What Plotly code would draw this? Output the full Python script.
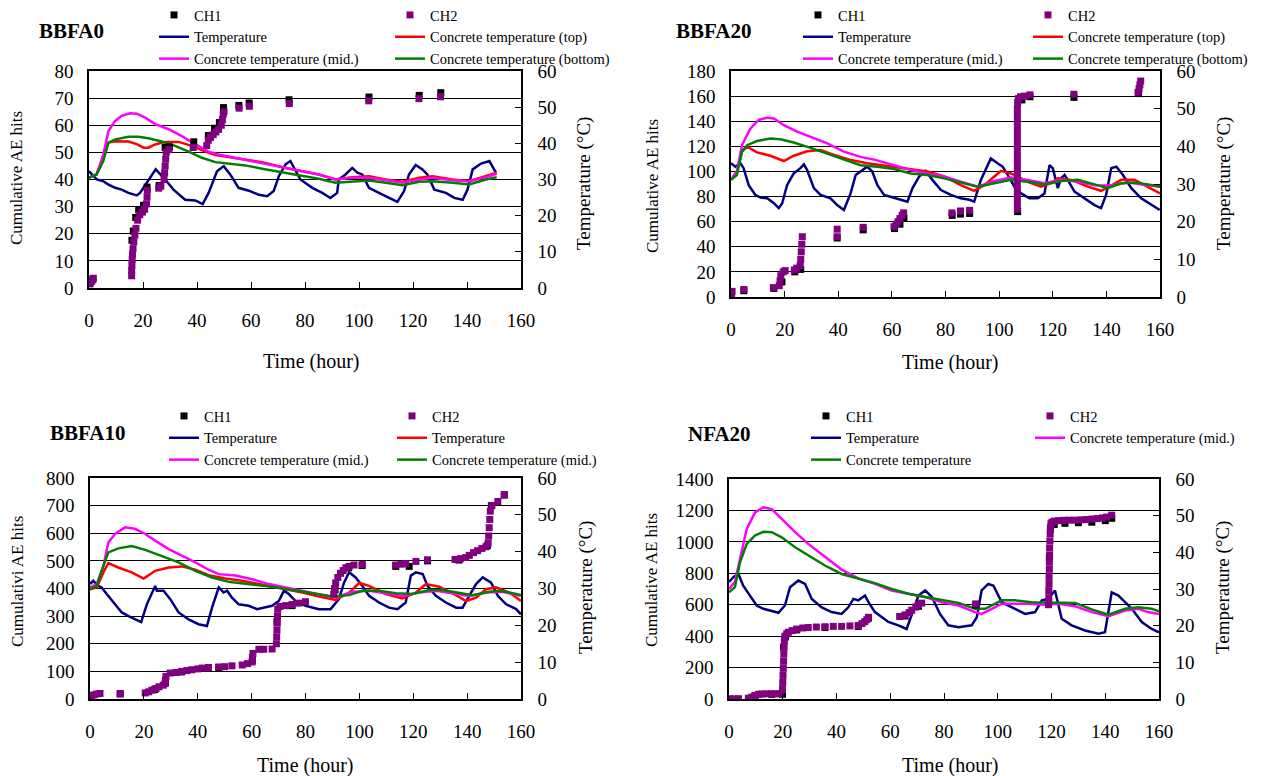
import plotly.graph_objects as go

W, H = 1262, 776          # browser window
PAGE_PAD = 8              # default body margin of the page
FIG_W, FIG_H = W - PAGE_PAD, H - PAGE_PAD
FONT = "Liberation Serif"

# ---------------- data: (time in hours, value) ----------------
# BBFA0
bbfa0_air = [(0, 32.3), (1, 31.6), (2.9, 30.0), (5.3, 29.5), (7.2, 28.6), (9.7, 27.7), (12.1, 27.2), (14.6, 26.3),
             (17.7, 25.6), (18.9, 26.3), (21.4, 29.1), (24.7, 32.8), (28.2, 30.0), (31.3, 27.2), (35.6, 24.4),
             (39.4, 24.2), (42.1, 23.2), (44.3, 26.3), (47.4, 32.3), (49.9, 33.7), (52.3, 31.4), (55.4, 27.7),
             (59.2, 26.9), (62.9, 25.8), (66.0, 25.4), (68.4, 26.8), (70.3, 30.9), (72.8, 34.2), (74.6, 35.1),
             (75.9, 33.2), (78.3, 30.0), (82.7, 27.7), (86.4, 26.3), (89.4, 24.9), (91.9, 26.3), (92.5, 30.0),
             (95.0, 31.4), (97.5, 33.2), (99.4, 31.9), (101.2, 31.4), (103.7, 27.7), (107.4, 26.3), (111.1, 24.9),
             (114.2, 23.8), (116.7, 26.8), (118.5, 31.4), (121.0, 34.0), (123.5, 32.8), (125.3, 31.4), (127.9, 27.2),
             (132.2, 26.3), (135.3, 24.9), (138.4, 24.4), (140.2, 27.2), (142.1, 32.8), (145.2, 34.4), (148.3, 35.1),
             (150.7, 31.9)]
bbfa0_top = [(0, 30.5), (2.8, 31.4), (5.3, 36.0), (7.2, 40.2), (9.7, 40.6), (14.6, 40.5), (17.7, 39.8), (20.2, 38.8),
             (22, 38.8), (24.5, 39.7), (28.2, 40.4), (33.2, 40.4), (38.1, 39.3), (43.1, 37.7), (46.8, 36.8),
             (51.7, 36.2), (57.9, 35.6), (64.1, 34.8), (72.8, 33.2), (79, 32.3), (85.1, 31.4), (91.3, 30.0),
             (97.5, 30.6), (103.7, 30.9), (109.9, 30.0), (116.1, 29.4), (122.3, 30.5), (127.2, 30.9), (134.7, 30.0),
             (140.8, 29.5), (147, 30.9), (151, 31.9)]
bbfa0_mid = [(0, 30.5), (2.8, 31.4), (5.3, 36.9), (7.2, 43.4), (9.7, 46.2), (12.1, 47.6), (15.2, 48.3), (17.7, 48.2),
             (20.8, 47.1), (24.5, 45.3), (29.5, 43.9), (34.4, 42.0), (39.4, 39.7), (44.3, 37.7), (48, 36.9),
             (54.2, 36.0), (60.4, 35.1), (66.6, 34.2), (72.8, 33.1), (79, 32.3), (85.1, 31.4), (91.3, 30.0),
             (97.5, 30.5), (103.7, 30.5), (109.9, 29.7), (116.1, 29.1), (122.3, 30.0), (127.2, 30.5), (134.7, 29.8),
             (140.8, 29.5), (147, 30.6), (151, 31.6)]
bbfa0_bot = [(0, 30.5), (2.8, 31.4), (5.3, 35.1), (7.2, 40.2), (9.7, 41.1), (14.6, 41.8), (18.3, 41.8), (22, 41.4),
             (26.9, 40.5), (31.9, 39.3), (36.9, 37.7), (41.8, 36.0), (46.8, 34.8), (51.7, 34.4), (57.9, 33.9),
             (64.1, 33.0), (72.8, 31.9), (79, 31.1), (85.1, 30.2), (91.3, 29.1), (97.5, 29.5), (103.7, 29.7),
             (109.9, 29.1), (116.1, 28.4), (122.3, 29.4), (127.2, 29.5), (134.7, 29.1), (140.8, 28.6), (147, 30.0),
             (151, 30.6)]
bbfa0_ch1 = [(0.4, 1.8), (1.4, 3.2), (15.9, 17.6), (16.4, 21), (17.3, 26), (18.4, 28.8), (20.2, 30.5), (21.5, 37.2),
             (26.0, 37.8), (28.2, 51.8), (29.8, 52.0), (38.8, 53.9), (44.2, 56.2), (46.5, 58.9), (48.3, 61.0),
             (49.8, 66.5), (55.5, 67.3), (59.3, 68.2), (74.1, 69.4), (103.7, 70.4), (122.3, 71.0), (130.3, 72.0)]
bbfa0_ch2 = [(0.3, 1.5), (1.0, 2.5), (1.6, 3.6), (15.8, 4.5), (15.8, 6.5), (15.9, 8.5), (16.0, 10.5), (16.1, 12.5),
             (16.3, 14.5), (16.6, 17), (17.0, 19.5), (17.4, 22), (18.0, 25), (18.8, 27), (19.8, 28), (20.6, 29),
             (21.3, 31), (21.5, 33.5), (21.6, 36), (25.8, 36.8), (26.6, 37.5), (27.8, 40), (28.0, 42.5), (28.2, 45),
             (28.4, 47.5), (28.6, 50), (29.6, 51), (38.6, 51.8), (43.6, 52.5), (44.2, 54.5), (45.0, 55.5),
             (46.0, 56.5), (47.0, 57.5), (48.0, 58.5), (49.0, 60), (49.4, 62), (49.7, 64), (50.0, 65), (55.6, 66.3),
             (59.4, 67), (74.2, 68), (103.6, 69), (122.2, 69.8), (130.2, 70.5)]

# BBFA20
bbfa20_air = [(0, 35.5), (1.6, 34.6), (3.5, 35.5), (4.7, 34.2), (6.6, 29.7), (9.1, 27.1), (11, 26.4), (13.5, 26.2),
              (16, 24.9), (17.8, 23.6), (19.1, 24.9), (20.9, 29.7), (23.4, 32.8), (25.9, 34.2), (27.2, 35.2),
              (28.4, 33.7), (30.9, 28.9), (33.4, 27.1), (37.1, 26.2), (39.6, 24.4), (42.1, 23.1), (44.6, 27.5),
              (46.5, 32.4), (49, 33.7), (50.8, 34.6), (52.7, 33.3), (54.6, 29.7), (57.1, 27.1), (60.8, 26.2),
              (63.3, 25.8), (65.8, 25.3), (67.7, 28.9), (70.2, 32.0), (72.6, 33.5), (75.1, 31.1), (78.3, 28.4),
              (82, 27.1), (85.7, 26.2), (88.9, 25.8), (90.7, 25.3), (93.2, 31.1), (95.7, 35.0), (96.9, 36.8),
              (99.4, 35.5), (101.3, 34.6), (103.2, 32.4), (105.7, 29.3), (108.2, 27.5), (111.3, 26.2), (114.4, 26.2),
              (116.9, 27.5), (118.8, 35.0), (120, 34.2), (121.9, 28.9), (123.1, 31.5), (124.4, 32.4), (125.6, 31.1),
              (128.1, 28.0), (131.8, 26.2), (135.6, 24.4), (138, 23.6), (139.9, 27.1), (141.8, 34.2), (143.7, 34.6),
              (146.2, 32.4), (149.3, 28.9), (153, 26.2), (156.8, 24.4), (159.9, 23.1)]
bbfa20_top = [(0, 31.1), (2.2, 33.3), (4.1, 38.6), (6, 39.9), (9.7, 38.4), (14.7, 37.5), (19.7, 36.1), (23.4, 37.5),
              (28.4, 38.7), (33.4, 39.0), (38.4, 37.7), (44.6, 36.4), (50.8, 35.5), (57.1, 34.9), (63.3, 34.3),
              (73.3, 33.3), (79.5, 32.0), (85.7, 29.7), (90.7, 28.2), (94.5, 29.7), (98.2, 32.0), (100.7, 33.5),
              (104.4, 32.8), (110.7, 30.6), (115.6, 29.3), (119.4, 30.2), (121.9, 31.5), (126.9, 31.1), (133.1, 29.3),
              (138, 28.2), (141.8, 29.6), (145.5, 31.1), (150.5, 31.1), (155.5, 29.3), (160, 27.5)]
bbfa20_mid = [(0, 31.1), (2.2, 33.3), (4.1, 40.3), (7.2, 44.7), (10.3, 47.0), (13.5, 47.6), (16, 47.4), (19.7, 45.6),
              (24.7, 43.9), (29.7, 42.5), (35.9, 40.8), (42.1, 38.6), (48.3, 37.2), (53.8, 36.4), (60.8, 35.0),
              (67, 33.7), (73.3, 32.8), (79.5, 32.0), (85.7, 30.6), (92, 29.3), (98.2, 30.8), (104.4, 31.7),
              (110.7, 31.1), (116.9, 30.2), (123.1, 31.1), (129.3, 30.6), (135.6, 29.7), (141.8, 29.6), (148, 30.4),
              (154.3, 29.9), (160, 29.3)]
bbfa20_bot = [(0, 31.1), (2.2, 32.4), (4.1, 38.6), (6, 40.3), (9.7, 41.4), (14.7, 42.1), (18.4, 41.9), (23.4, 41.0),
              (29.7, 39.6), (35.9, 38.1), (42.1, 36.4), (48.3, 35.0), (54.6, 34.6), (60.8, 34.0), (67, 32.8),
              (73.3, 32.4), (79.5, 31.5), (85.7, 30.4), (92, 29.3), (98.2, 30.2), (104.4, 31.1), (110.7, 30.6),
              (116.9, 29.9), (123.1, 30.8), (129.3, 31.1), (135.6, 29.9), (140.5, 28.9), (145.5, 30.2), (150.5, 30.4),
              (155.5, 29.9), (160, 29.3)]
bbfa20_ch1 = [(0.2, 0.5), (4.8, 5.0), (16.0, 6.8), (19.0, 12), (23.8, 20), (26.0, 22), (39.6, 47), (49.3, 53.5),
              (61.0, 54.5), (63.0, 58), (64.5, 63), (82.5, 65), (85.6, 66), (89.0, 66.5), (106.9, 68), (108.5, 157),
              (111.5, 159.5), (127.9, 159), (152.0, 162)]
bbfa20_ch2 = [(0.2, 1.5), (0.4, 4.5), (4.8, 6), (15.8, 7.5), (18.0, 9), (18.3, 13), (18.6, 17), (19.5, 20), (20.2, 21),
              (23.6, 21.5), (24.5, 23), (25.8, 25), (26.0, 30), (26.2, 36), (26.4, 42), (26.6, 48), (39.6, 48),
              (39.6, 54), (49.3, 55.5), (60.8, 56), (61.6, 58), (62.3, 60), (63.0, 62.5), (63.8, 65), (64.4, 67),
              (82.4, 67), (85.6, 68.5), (89.0, 69), (106.8, 70), (106.8, 75), (106.8, 80), (106.8, 85), (106.8, 90),
              (106.8, 95), (106.8, 100), (106.8, 105), (106.8, 110), (106.8, 115), (106.8, 120), (106.8, 125),
              (106.8, 130), (106.8, 135), (106.8, 140), (106.8, 145), (106.8, 150), (106.9, 155), (107.2, 158),
              (108.0, 159.5), (109.5, 160), (111.5, 161), (127.9, 161.5), (151.8, 163), (152.2, 166), (152.5, 169),
              (152.8, 172)]

# BBFA10
bbfa10_air = [(0, 31.2), (1.2, 32.1), (3.1, 30.7), (4.3, 30.3), (6.2, 28.5), (9.3, 25.7), (11.8, 23.5), (14.3, 22.5),
              (16.7, 21.6), (19, 20.9), (21.1, 25.7), (24.2, 30.7), (24.8, 29.4), (27.3, 29.4), (29.8, 27.1),
              (32.9, 23.5), (36.6, 21.6), (40.3, 20.3), (43.4, 19.8), (45.3, 24.8), (47.8, 30.3), (49.6, 28.9),
              (50.9, 29.4), (52.7, 27.5), (55.2, 25.7), (58.9, 25.3), (62, 24.4), (65.1, 24.8), (67.6, 25.3),
              (70.1, 26.6), (72, 29.4), (73.8, 28.5), (76.3, 26.6), (80, 25.3), (85, 24.4), (89.3, 24.4), (92.4, 27.1),
              (94.3, 31.6), (96.2, 34.4), (98.6, 33.0), (101.1, 30.7), (103.6, 28.0), (107.3, 26.2), (111, 24.8),
              (114.1, 24.4), (117.2, 26.2), (119.1, 33.5), (121, 34.4), (123.5, 33.9), (125.3, 30.7), (128.4, 28.0),
              (132.1, 26.2), (135.9, 24.8), (138.3, 24.8), (140.8, 28.0), (143.3, 31.2), (145.8, 33.0), (148.9, 31.6),
              (151.4, 28.0), (154.5, 25.7), (158.2, 24.4), (160, 23.0)]
bbfa10_top = [(0, 29.8), (2.5, 30.3), (5, 34.4), (6.8, 36.9), (10.5, 35.7), (15.5, 34.4), (19.9, 32.7), (24.2, 34.8),
              (29.2, 35.7), (34.1, 36.0), (39.1, 35.1), (44, 33.6), (50.2, 32.7), (56.5, 32.1), (62.7, 31.2),
              (72.6, 29.8), (78.8, 28.9), (85, 27.8), (91.2, 26.9), (96.2, 28.9), (99.9, 31.5), (103.6, 30.7),
              (109.8, 28.5), (116, 27.3), (121, 28.9), (124.7, 31.2), (129.6, 30.5), (134.6, 28.7), (139.6, 26.6),
              (143.3, 27.5), (147, 29.8), (150.7, 30.3), (155.7, 28.9), (160, 26.6)]
bbfa10_mid = [(0, 30.3), (2.5, 31.2), (5, 36.2), (6.8, 42.5), (9.3, 44.8), (13, 46.6), (16.7, 46.2), (20.5, 44.8),
              (24.2, 43.0), (29.2, 40.7), (34.1, 38.9), (39.1, 37.1), (44, 35.1), (47.8, 33.9), (54, 33.5),
              (60.2, 32.5), (66.4, 31.2), (72.6, 30.3), (78.8, 29.4), (85, 28.5), (91.2, 27.5), (97.4, 29.1),
              (103.6, 29.4), (109.8, 28.7), (116, 28.0), (122.2, 28.9), (128.4, 29.4), (134.6, 28.7), (140.8, 28.0),
              (147, 28.9), (153.2, 29.1), (160, 28.0)]
bbfa10_bot = [(0, 29.8), (2.5, 30.7), (5, 36.2), (6.8, 39.8), (10.5, 40.9), (15.5, 41.5), (20.5, 40.5), (26.7, 38.9),
              (32.9, 37.1), (39.1, 34.8), (45.3, 33.0), (51.5, 31.8), (60.2, 31.2), (67.6, 30.5), (75.1, 29.6),
              (82.5, 28.7), (90, 27.8), (96.2, 28.2), (101.1, 29.4), (107.3, 29.4), (113.5, 28.7), (119.7, 28.5),
              (126, 29.6), (130.9, 29.6), (135.9, 28.9), (142.1, 28.2), (148.3, 29.1), (152, 29.4), (155.7, 28.9),
              (160, 28.2)]
bbfa10_ch1 = [(0.3, 10), (11.2, 18), (24.0, 34), (28.0, 60), (34, 98), (47.8, 114), (60.3, 140), (69.4, 280),
              (75, 338), (91.0, 395), (96.0, 475), (101, 483), (113.5, 480), (118.5, 480), (125.3, 500), (137, 503),
              (147.5, 555), (149.0, 700), (153.8, 738)]
bbfa10_ch2 = [(0.2, 5), (0.5, 12), (1.5, 15), (2.5, 18), (3.7, 20), (11.2, 20), (20.5, 22), (21.8, 26), (23.0, 32),
              (24.5, 38), (25.6, 44), (27.2, 50), (27.9, 56), (28.0, 68), (28.2, 82), (29.8, 94), (32, 96), (34.1, 100),
              (36, 103), (37.8, 106), (40, 109), (41.6, 112), (44, 114), (47.8, 116), (50, 117), (52.7, 120),
              (56.5, 123), (58.5, 128), (60.2, 134), (60.3, 150), (60.5, 165), (62.7, 180), (64.5, 180), (67.6, 181),
              (69.2, 200), (69.3, 225), (69.4, 250), (69.5, 275), (69.6, 300), (69.7, 325), (70.5, 335), (72.6, 338),
              (75, 342), (77.5, 347), (80, 352), (90.5, 380), (90.8, 400), (91.2, 420), (92.0, 440), (93.0, 455),
              (94.0, 465), (95.0, 475), (96.2, 480), (98.0, 485), (101.1, 487), (113.5, 485), (115.5, 488),
              (117.2, 490), (121.0, 498), (125.3, 504), (135.5, 505), (137.5, 508), (139.5, 512), (140.8, 520),
              (142.4, 530), (143.9, 537), (145.5, 545), (147.0, 551), (147.8, 565), (148.0, 590), (148.2, 620),
              (148.4, 650), (148.6, 680), (149.2, 700), (151.4, 715), (153.8, 740)]

# NFA20
nfa20_air = [(0, 31.9), (1.6, 33.2), (3.5, 34.1), (5.3, 30.9), (7.8, 28.2), (10.3, 25.5), (12.8, 24.6), (15.9, 24.1),
             (18.4, 23.5), (20.8, 25.5), (22.7, 30.5), (25.8, 32.3), (28.3, 31.4), (30.8, 27.3), (34.5, 25.0),
             (38.2, 23.7), (41.9, 23.2), (44.4, 25.0), (46.3, 27.3), (48.1, 26.9), (50.6, 28.2), (51.9, 26.4),
             (54.3, 23.7), (59.3, 21.0), (63, 20.1), (66.1, 19.1), (68, 22.8), (70.5, 28.2), (73, 29.6), (75.5, 27.8),
             (78.5, 23.2), (81.6, 20.1), (85.4, 19.6), (90.3, 20.1), (92.2, 22.3), (94, 29.6), (96.5, 31.4),
             (98.4, 30.9), (101.5, 26.4), (106.5, 24.6), (110.2, 23.2), (113.9, 23.7), (116.4, 26.9), (118.7, 27.3),
             (121.3, 29.6), (123.8, 21.9), (127.5, 20.1), (132.5, 18.7), (137.5, 17.8), (139.9, 18.2), (142.4, 29.1),
             (144.9, 28.2), (147.4, 26.4), (149.9, 24.6), (153.6, 21.0), (157.3, 19.1), (160, 18.2)]
nfa20_mid = [(0, 30.0), (2.2, 31.9), (4.1, 38.2), (6.6, 46.4), (9.7, 50.9), (12.8, 52.3), (15.9, 51.8), (19.6, 49.1),
             (24.6, 45.5), (29.5, 42.3), (35.7, 38.7), (41.9, 35.3), (48.1, 32.9), (54.3, 31.4), (60.5, 29.6),
             (66.7, 28.7), (73, 27.8), (79.2, 26.4), (85.4, 25.5), (91.6, 23.7), (94, 23.2), (97.8, 24.6),
             (101.5, 26.0), (106.5, 26.0), (111.4, 26.0), (117.6, 25.7), (122.6, 26.0), (128.8, 25.3), (135, 23.7),
             (141.2, 22.6), (147.4, 24.1), (152.4, 24.6), (155.8, 23.7), (160, 23.2)]
nfa20_bot = [(0, 29.1), (2.2, 30.5), (4.1, 37.3), (6.6, 42.3), (9.7, 44.6), (12.8, 45.6), (15.9, 45.5), (19.6, 44.1),
             (24.6, 41.4), (29.5, 39.1), (35.7, 36.4), (41.9, 34.1), (48.1, 32.9), (54.3, 31.6), (60.5, 30.0),
             (66.7, 28.7), (73, 27.8), (79.2, 26.9), (85.4, 26.2), (91.6, 24.6), (95.3, 24.6), (101.5, 26.9),
             (106.5, 26.9), (112.7, 26.4), (118.9, 26.4), (123.8, 26.4), (128.8, 26.2), (135, 24.4), (141.2, 23.0),
             (147.4, 24.6), (152.4, 25.0), (157.3, 24.6), (160, 23.9)]
nfa20_ch1 = [(0.4, 0), (3.5, 0), (9.7, 20), (15.9, 30), (19.9, 30), (20.3, 330), (21.0, 395), (25.2, 440), (35.7, 455),
             (48.1, 462), (51.9, 515), (65.5, 528), (70.5, 590), (91.8, 598), (119.2, 900), (119.6, 1080), (121, 1110),
             (125, 1118), (130, 1122), (135, 1125), (140, 1135), (142.4, 1150)]
nfa20_ch2 = [(0.4, 0), (2.0, 0), (3.5, 0), (7.2, 5), (8.5, 12), (9.7, 22), (11.0, 30), (12.2, 32), (14.0, 33),
             (15.9, 33), (17.5, 33), (19.0, 34), (19.9, 60), (20.0, 105), (20.1, 150), (20.2, 195), (20.3, 240),
             (20.4, 285), (20.5, 330), (20.6, 370), (20.8, 400), (21.5, 415), (22.1, 425), (23.5, 435), (25.2, 445),
             (27.5, 452), (29.5, 455), (32.5, 458), (35.7, 460), (38.8, 462), (41.9, 462), (45, 465), (48.1, 468),
             (49.5, 480), (50.5, 492), (51.3, 505), (51.9, 520), (63.5, 525), (65.5, 535), (67.0, 550), (68.0, 565),
             (69.5, 585), (70.5, 600), (71.7, 610), (91.8, 605), (118.9, 600), (119.0, 645), (119.0, 690),
             (119.1, 735), (119.1, 780), (119.2, 825), (119.2, 870), (119.3, 915), (119.3, 960), (119.4, 1005),
             (119.5, 1050), (119.6, 1090), (119.8, 1115), (120.2, 1125), (121, 1132), (122.6, 1135), (124.5, 1137),
             (126.5, 1138), (128.8, 1138), (131, 1140), (133, 1142), (135, 1145), (137, 1148), (139, 1152),
             (140.5, 1158), (142.4, 1170)]

time_ticks = [0, 20, 40, 60, 80, 100, 120, 140, 160]
temp_range = [0, 60]

COLORS = {"ch1": "#000000", "ch2": "#800080", "air": "#000080", "top": "#FF0000",
          "mid": "#FF00FF", "bot": "#008000"}

# series entries: (kind, data, legend name, legend column); positions are window pixels
panels = [
    dict(title="BBFA0", title_xy=(71, 31), box=(89, 521, 71, 288), hits_max=80, hits_dtick=10,
         ylab="Cumulative AE hits", ylab_xy=(17, 178), tlab_xy=(584, 184), xlab_xy=(311, 361),
         leg=((154, -1), (390, -1)),
         series=[("ch1", bbfa0_ch1, "CH1", 0), ("ch2", bbfa0_ch2, "CH2", 1),
                 ("air", bbfa0_air, "Temperature", 0), ("top", bbfa0_top, "Concrete temperature (top)", 1),
                 ("mid", bbfa0_mid, "Concrete temperature (mid.)", 0),
                 ("bot", bbfa0_bot, "Concrete temperature (bottom)", 1)]),
    dict(title="BBFA20", title_xy=(713, 31), box=(731, 1160, 71, 297), hits_max=180, hits_dtick=20,
         ylab="Cumulative AE hits", ylab_xy=(652, 186), tlab_xy=(1224, 184), xlab_xy=(950, 362),
         leg=((798, -1), (1028, -1)),
         series=[("ch1", bbfa20_ch1, "CH1", 0), ("ch2", bbfa20_ch2, "CH2", 1),
                 ("air", bbfa20_air, "Temperature", 0), ("top", bbfa20_top, "Concrete temperature (top)", 1),
                 ("mid", bbfa20_mid, "Concrete temperature (mid.)", 0),
                 ("bot", bbfa20_bot, "Concrete temperature (bottom)", 1)]),
    dict(title="BBFA10", title_xy=(87, 433), box=(90, 521, 478, 699), hits_max=800, hits_dtick=100,
         ylab="Cumulativi AE hits", ylab_xy=(17, 582), tlab_xy=(586, 588), xlab_xy=(305, 765),
         leg=((164, 400), (392, 400)),
         series=[("ch1", bbfa10_ch1, "CH1", 0), ("ch2", bbfa10_ch2, "CH2", 1),
                 ("air", bbfa10_air, "Temperature", 0), ("top", bbfa10_top, "Temperature", 1),
                 ("mid", bbfa10_mid, "Concrete temperature (mid.)", 0),
                 ("bot", bbfa10_bot, "Concrete temperature (mid.)", 1)]),
    dict(title="NFA20", title_xy=(719, 434), box=(729, 1159, 479, 699), hits_max=1400, hits_dtick=200,
         ylab="Cumulative AE hits", ylab_xy=(651, 580), tlab_xy=(1223, 588), xlab_xy=(950, 765),
         leg=((806, 400), (1030, 400)),
         series=[("ch1", nfa20_ch1, "CH1", 0), ("ch2", nfa20_ch2, "CH2", 1),
                 ("air", nfa20_air, "Temperature", 0),
                 ("mid", nfa20_mid, "Concrete temperature (mid.)", 1),
                 ("bot", nfa20_bot, "Concrete temperature", 0)]),
]


def px(x):
    return (x - PAGE_PAD) / FIG_W


def py(y):
    return 1 - (y - PAGE_PAD) / FIG_H


fig = go.Figure()
layout = dict(width=FIG_W, height=FIG_H, margin=dict(l=0, r=0, t=0, b=0, autoexpand=False),
              paper_bgcolor="white", plot_bgcolor="white",
              font=dict(family=FONT, color="black", size=19), annotations=[])

legend_idx = 0
for k, p in enumerate(panels, start=1):
    left, right, top, bottom = p["box"]
    xa, yt, yh = f"x{k}", f"y{k}", f"y{k + 4}"
    leg_names = []
    for col in range(2):
        legend_idx += 1
        name = "legend" if legend_idx == 1 else f"legend{legend_idx}"
        leg_names.append(name)
        lx, ly = p["leg"][col]
        layout[name] = dict(x=px(lx), y=py(ly), xanchor="left", yanchor="top", bgcolor="rgba(0,0,0,0)",
                            font=dict(family=FONT, size=14.5, color="black"), orientation="v",
                            tracegroupgap=0, itemwidth=30, borderwidth=0)
    for kind, data, label, col in p["series"]:
        xs = [d[0] for d in data]
        ys = [d[1] for d in data]
        if kind in ("ch1", "ch2"):
            fig.add_trace(go.Scatter(x=xs, y=ys, mode="markers", name=label,
                                     marker=dict(symbol="square", size=7, color=COLORS[kind], line=dict(width=0)),
                                     xaxis=xa, yaxis=yh, legend=leg_names[col]))
        else:
            fig.add_trace(go.Scatter(x=xs, y=ys, mode="lines", name=label,
                                     line=dict(color=COLORS[kind], width=2.5),
                                     xaxis=xa, yaxis=yt, legend=leg_names[col]))

    axis_common = dict(showline=True, linecolor="black", linewidth=1.5, zeroline=False, automargin=False,
                       tickfont=dict(family=FONT, size=19, color="black"))
    layout[f"xaxis{k}"] = dict(domain=[px(left), px(right)], anchor=yt, range=[0, 160],
                               tickvals=time_ticks, ticks="inside", ticklen=6, tickcolor="black",
                               mirror=True, showgrid=False, ticklabelstandoff=14, **axis_common)
    layout[f"yaxis{k}"] = dict(domain=[py(bottom), py(top)], anchor=xa, side="right", range=temp_range,
                               dtick=10, ticks="inside", ticklen=6, tickcolor="black", showgrid=False,
                               ticklabelstandoff=11, **axis_common)
    layout[f"yaxis{k + 4}"] = dict(overlaying=yt, anchor=xa, side="left", range=[0, p["hits_max"]],
                                   dtick=p["hits_dtick"], showgrid=True, gridcolor="black", gridwidth=1,
                                   ticks="", ticklabelstandoff=10, **axis_common)

    layout["annotations"] += [
        dict(text=f"<b>{p['title']}</b>", x=px(p["title_xy"][0]), y=py(p["title_xy"][1]), xref="paper",
             yref="paper", showarrow=False, xanchor="center", yanchor="middle",
             font=dict(family=FONT, size=21, color="black")),
        dict(text=p["ylab"], x=px(p["ylab_xy"][0]), y=py(p["ylab_xy"][1]), xref="paper", yref="paper",
             showarrow=False, textangle=-90, xanchor="center", yanchor="middle",
             font=dict(family=FONT, size=17, color="black")),
        dict(text="Temperature (°C)", x=px(p["tlab_xy"][0]), y=py(p["tlab_xy"][1]), xref="paper", yref="paper",
             showarrow=False, textangle=-90, xanchor="center", yanchor="middle",
             font=dict(family=FONT, size=19, color="black")),
        dict(text="Time (hour)", x=px(p["xlab_xy"][0]), y=py(p["xlab_xy"][1]), xref="paper", yref="paper",
             showarrow=False, xanchor="center", yanchor="middle",
             font=dict(family=FONT, size=20, color="black")),
    ]

fig.update_layout(**layout)
fig.write_html("out.html")
